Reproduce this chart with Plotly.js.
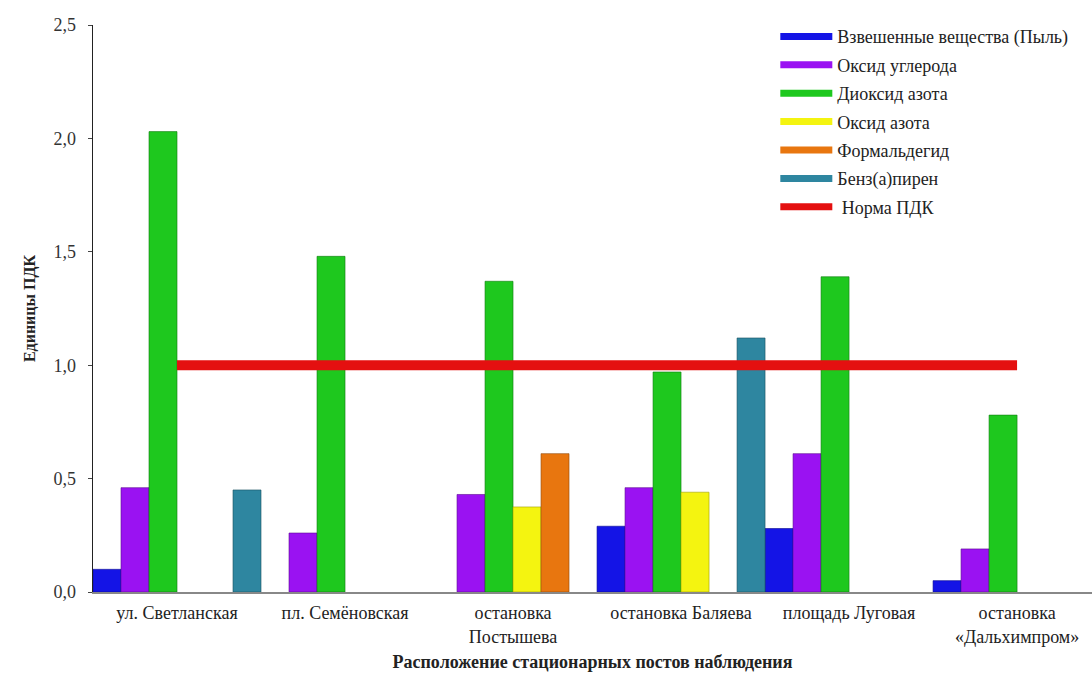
<!DOCTYPE html>
<html><head><meta charset="utf-8">
<script src="https://cdn.plot.ly/plotly-3.0.1.min.js"></script>
<style>html,body{margin:0;padding:0;background:#fff}</style>
</head><body><div id="chart" style="width:1092px;height:677px"></div>
<script>
const categories = ['ул. Светланская', 'пл. Семёновская', 'остановка<br>Постышева', 'остановка Баляева', 'площадь Луговая', 'остановка<br>«Дальхимпром»'];
const seriesNames = ['Взвешенные вещества (Пыль)', 'Оксид углерода', 'Диоксид азота', 'Оксид азота', 'Формальдегид', 'Бенз(а)пирен'];
const dust = [0.10, null, null, 0.29, 0.28, 0.05];
const co = [0.46, 0.26, 0.43, 0.46, 0.61, 0.19];
const no2 = [2.03, 1.48, 1.37, 0.97, 1.39, 0.78];
const no = [null, null, 0.375, 0.44, null, null];
const formaldehyde = [null, null, 0.61, null, null, null];
const benzapyrene = [0.45, null, null, 1.12, null, null];
const normName = 'Норма ПДК';
const norm = [1, 1, 1, 1, 1, 1];

const seriesValues = [dust, co, no2, no, formaldehyde, benzapyrene];
const colors = ['#1414e6', '#9a12f2', '#1ec81e', '#f4f410', '#e8760f', '#2e86a0'];
const edges = ['#0a0a90', '#5a0a90', '#0f7a0f', '#a0a000', '#904808', '#1a5060'];
const serif = '"Liberation Serif", "Times New Roman", serif';

const traces = [];
seriesValues.forEach((vals, i) => {
  traces.push({
    type: 'bar', x: categories, y: vals, name: seriesNames[i], showlegend: false,
    marker: {color: colors[i], line: {color: edges[i], width: 0.6}},
    hoverinfo: 'x+y+name'
  });
});
traces.push({
  type: 'scatter', mode: 'lines', x: categories, y: norm, name: normName, showlegend: false,
  line: {color: '#e41010', width: 10}
});
// legend entries
seriesNames.forEach((n, i) => {
  traces.push({type: 'scatter', mode: 'lines', x: [null], y: [null], name: n, legendgroup: 'g' + i,
    line: {color: colors[i], width: 7}});
});
traces.push({type: 'scatter', mode: 'lines', x: [null], y: [null], name: ' ' + normName, legendgroup: 'g6',
  line: {color: '#e41010', width: 7}});

const layout = {
  width: 1092, height: 677,
  margin: {l: 93, r: 0, t: 25, b: 85},
  paper_bgcolor: '#fff', plot_bgcolor: '#fff',
  font: {family: serif, size: 18, color: '#222'},
  barmode: 'group', bargap: 0, bargroupgap: 0,
  xaxis: {
    type: 'category', range: [-0.5, 5.446],
    showline: true, linecolor: '#888', linewidth: 1.5, showgrid: false, zeroline: false,
    ticks: '', ticklabelstandoff: 4, tickfont: {family: serif, size: 18, color: '#222'},
    title: {text: '<b>Расположение стационарных постов наблюдения</b>', font: {family: serif, size: 18, color: '#222'}, standoff: 10}
  },
  yaxis: {
    range: [0, 2.5], dtick: 0.5, tickformat: '.1f',
    showline: true, linecolor: '#222', linewidth: 1.5, showgrid: false, zeroline: false,
    ticks: 'outside', ticklen: 4, tickcolor: '#444', ticklabelstandoff: 8,
    tickfont: {family: serif, size: 18, color: '#333'},
    title: {text: '<b>Единицы ПДК</b>', font: {family: serif, size: 16, color: '#222'}, standoff: 14}
  },
  separators: ', ',
  legend: {
    x: 0.683, y: 1.012, xanchor: 'left', yanchor: 'top',
    bgcolor: 'rgba(0,0,0,0)', font: {family: serif, size: 18, color: '#222'},
    tracegroupgap: 2, itemwidth: 52
  },
  showlegend: true
};
Plotly.newPlot('chart', traces, layout, {displayModeBar: false, staticPlot: true});
</script></body></html>
